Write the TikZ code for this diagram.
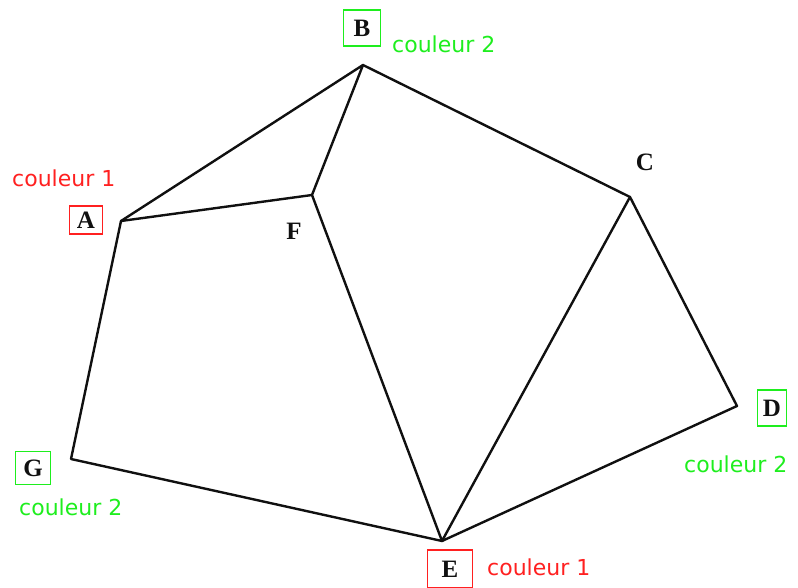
\documentclass[tikz,border=0pt]{standalone}
\usepackage{fontspec}
\setmainfont{Liberation Serif}
\newfontfamily\noteFont{DejaVu Sans}
\usetikzlibrary{positioning}
\definecolor{colOne}{HTML}{FF2020}
\definecolor{colTwo}{HTML}{1EEE1E}
\definecolor{edgeInk}{HTML}{101010}

\begin{document}
\begin{tikzpicture}[
    x=1pt, y=-1pt,
    edge/.style={draw=edgeInk, line width=2.4pt, line join=round, line cap=round},
    vertexName/.style={font=\bfseries\fontsize{25}{30}\selectfont, text=edgeInk, inner sep=0pt},
    boxOne/.style={vertexName, draw=colOne, line width=1.5pt},
    boxTwo/.style={vertexName, draw=colTwo, line width=1.5pt},
    noteOne/.style={font=\noteFont\fontsize{22}{24}\selectfont, text=colOne, inner sep=0pt, anchor=base west},
    noteTwo/.style={font=\noteFont\fontsize{22}{24}\selectfont, text=colTwo, inner sep=0pt, anchor=base west}
]
\useasboundingbox (0,0) rectangle (798,588);

% vertices of the graph
\coordinate (pA) at (121,221);
\coordinate (pB) at (363,65);
\coordinate (pC) at (630,197);
\coordinate (pD) at (737,406);
\coordinate (pE) at (442,541);
\coordinate (pF) at (312,195);
\coordinate (pG) at (71,459);

% edges
\draw[edge] (pA) -- (pB) -- (pC) -- (pD) -- (pE) -- (pG) -- cycle;
\draw[edge] (pA) -- (pF) -- (pB);
\draw[edge] (pF) -- (pE) -- (pC);

% vertex names
\node[boxOne, minimum width=33pt, minimum height=28pt] (labA) at (86,220) {A};
\node[boxTwo, minimum width=37pt, minimum height=36pt] (labB) at (362,28) {B};
\node[vertexName] (labC) at (645,162) {C};
\node[boxTwo, minimum width=29pt, minimum height=36pt] (labD) at (772,408) {D};
\node[boxOne, minimum width=45pt, minimum height=38pt] (labE) at (450,569) {E};
\node[vertexName] (labF) at (294,231) {F};
\node[boxTwo, minimum width=35pt, minimum height=33pt] (labG) at (33,468) {G};

% colour notes
\node[noteOne] (noteA) at (12,187) {couleur 1};
\node[noteTwo] (noteB) at (392,53) {couleur 2};
\node[noteTwo] (noteD) at (684,472) {couleur 2};
\node[noteOne] (noteE) at (487,575) {couleur 1};
\node[noteTwo] (noteG) at (19,515) {couleur 2};

\end{tikzpicture}
\end{document}
